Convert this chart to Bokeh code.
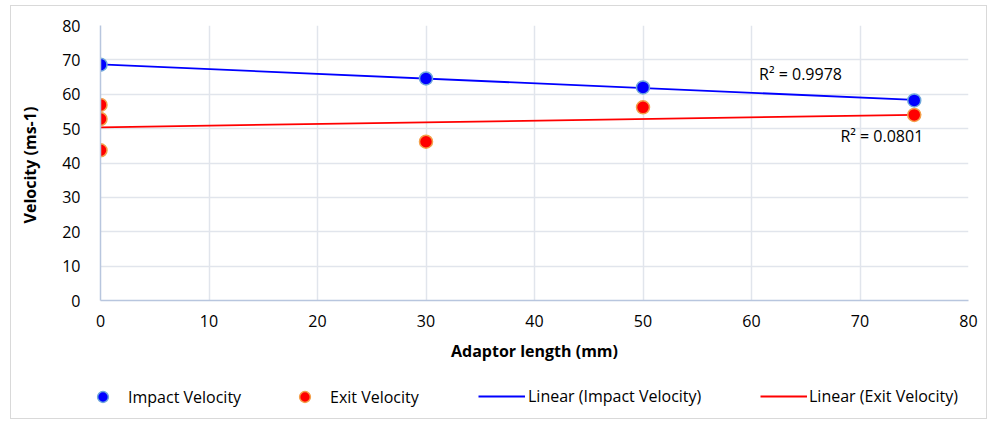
import numpy as np
from bokeh.plotting import figure
from bokeh.layouts import column
from bokeh.models import Legend, LegendItem, Label, FixedTicker, Range1d
from bokeh.embed import file_html
from bokeh.resources import INLINE

# ---- data ----
impact_x = [0, 30, 50, 75]
impact_y = [68.6, 64.6, 62.0, 58.2]
exit_x = [0, 0, 0, 30, 50, 75]
exit_y = [56.9, 52.8, 43.7, 46.2, 56.2, 54.0]
x_ticks = [0, 10, 20, 30, 40, 50, 60, 70, 80]
y_ticks = [0, 10, 20, 30, 40, 50, 60, 70, 80]
r2_impact_text = "R\u00b2 = 0.9978"
r2_exit_text = "R\u00b2 = 0.0801"
legend_labels = ["Impact Velocity", "Exit Velocity",
                 "Linear (Impact Velocity)", "Linear (Exit Velocity)"]

FONT = "Open Sans"
BLUE = "#0000FF"
RED = "#FF0000"
IMPACT_EDGE = "#6FA8DC"
EXIT_EDGE = "#F4A04A"

# trendlines (least-squares fits of the data)
ci = np.polyfit(impact_x, impact_y, 1)
ce = np.polyfit(exit_x, exit_y, 1)
tx_i = [min(impact_x), max(impact_x)]
tx_e = [min(exit_x), max(exit_x)]
ty_i = [ci[0] * v + ci[1] for v in tx_i]
ty_e = [ce[0] * v + ce[1] for v in tx_e]

p = figure(output_backend="svg", toolbar_location=None,
           x_range=Range1d(0, 80), y_range=Range1d(0, 80),
           frame_width=868, frame_height=275,
           min_border_left=89, min_border_top=19, min_border_right=18, min_border_bottom=75)
p.outline_line_color = None
p.background_fill_color = "white"
p.border_fill_color = "white"

for ax, ticks in ((p.xaxis[0], x_ticks), (p.yaxis[0], y_ticks)):
    ax.ticker = FixedTicker(ticks=ticks)
    ax.axis_line_color = "#B8C6DE"
    ax.axis_line_width = 1.5
    ax.major_tick_line_color = None
    ax.minor_tick_line_color = None
    ax.major_tick_out = 0
    ax.major_tick_in = 0
    ax.major_label_text_font = FONT
    ax.major_label_text_font_size = "16px"
    ax.major_label_text_color = "#000000"
    ax.axis_label_text_font = FONT
    ax.axis_label_text_font_size = "16px"
    ax.axis_label_text_font_style = "bold"
    ax.axis_label_text_color = "#000000"

p.xaxis.axis_label = "Adaptor length (mm)"
p.yaxis.axis_label = "Velocity  (ms-1)"
p.xaxis.major_label_standoff = 14
p.xaxis.axis_label_standoff = 10
p.yaxis.major_label_standoff = 20
p.yaxis.axis_label_standoff = 18

p.xgrid.ticker = FixedTicker(ticks=x_ticks)
p.ygrid.ticker = FixedTicker(ticks=y_ticks)
p.grid.grid_line_color = "#E1E5EC"
p.grid.grid_line_width = 1.5

p.line(tx_i, ty_i, line_color=BLUE, line_width=1.8)
p.line(tx_e, ty_e, line_color=RED, line_width=1.8)
p.scatter(impact_x, impact_y, size=13, fill_color=BLUE, line_color=IMPACT_EDGE, line_width=1.5)
p.scatter(exit_x, exit_y, size=13, fill_color=RED, line_color=EXIT_EDGE, line_width=1.5)

p.add_layout(Label(x=60.7, y=66.0, text=r2_impact_text, text_font=FONT, text_font_size="16px",
                   text_baseline="middle", text_color="#000000"))
p.add_layout(Label(x=68.2, y=48.0, text=r2_exit_text, text_font=FONT, text_font_size="16px",
                   text_baseline="middle", text_color="#000000"))

# ---- legend strip (same series, drawn off-range so only the legend shows) ----
lf = figure(output_backend="svg", toolbar_location=None,
            x_axis_type=None, y_axis_type=None,
            x_range=Range1d(1000, 1001), y_range=Range1d(1000, 1001),
            frame_width=975, frame_height=43,
            min_border_left=0, min_border_right=0, min_border_top=0, min_border_bottom=0)
lf.outline_line_color = None
lf.grid.visible = False
lf.background_fill_color = "white"
lf.border_fill_color = "white"

r1 = lf.scatter(impact_x, impact_y, size=13, fill_color=BLUE, line_color=IMPACT_EDGE, line_width=1.5)
r2 = lf.scatter(exit_x, exit_y, size=13, fill_color=RED, line_color=EXIT_EDGE, line_width=1.5)
r3 = lf.line(tx_i, ty_i, line_color=BLUE, line_width=1.8)
r4 = lf.line(tx_e, ty_e, line_color=RED, line_width=1.8)

# (label, renderer, x offset, glyph width, glyph height, label standoff, y offset)
specs = [(legend_labels[0], r1, 78, 27, 27, 12, 8),
         (legend_labels[1], r2, 280, 27, 27, 12, 8),
         (legend_labels[2], r3, 467, 47, 20, 3, 11),
         (legend_labels[3], r4, 749, 47, 20, 2, 11)]
for label, r, xoff, gw, gh, st, yoff in specs:
    lg = Legend(items=[LegendItem(label=label, renderers=[r])], location=(xoff, yoff),
                orientation="horizontal", padding=0, margin=0, spacing=0,
                glyph_width=gw, glyph_height=gh, label_standoff=st,
                label_text_font=FONT, label_text_font_size="16px",
                label_text_color="#000000", background_fill_alpha=0,
                border_line_color=None)
    lf.add_layout(lg, "center")

layout = column(p, lf, spacing=0)
layout.styles = {"border": "1px solid #D9D9D9", "margin-left": "10px", "margin-top": "5px"}

open("out.html", "w").write(file_html(layout, INLINE))
